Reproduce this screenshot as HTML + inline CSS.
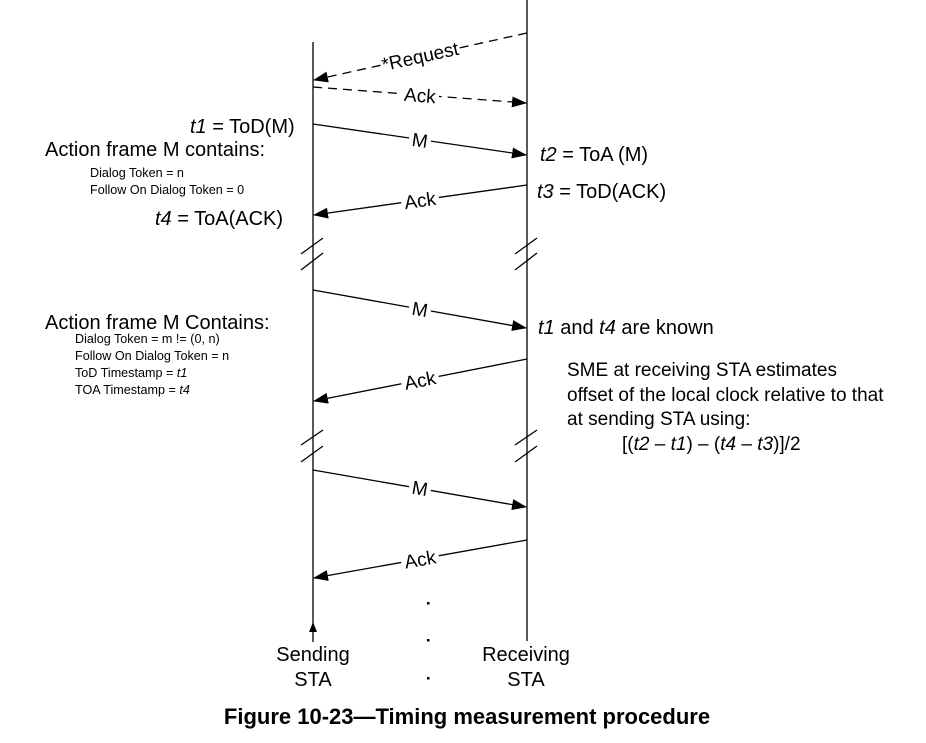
<!DOCTYPE html>
<html><head><meta charset="utf-8"><style>
body{margin:0;background:#fff}
svg{display:block}
text{font-family:"Liberation Sans",Arial,sans-serif;fill:#000}
</style></head><body>
<svg width="926" height="743" viewBox="0 0 926 743" xmlns="http://www.w3.org/2000/svg">
<defs>
<marker id="ah" markerWidth="15" markerHeight="11" refX="14" refY="5.5" orient="auto" markerUnits="userSpaceOnUse">
<path d="M0,0 L15,5.5 L0,11 z" fill="#000"/></marker>
</defs>
<g stroke="#000" stroke-width="1.3" fill="none">
<line x1="313" y1="42" x2="313" y2="642"/>
<line x1="527" y1="0" x2="527" y2="641"/>
<line x1="301" y1="254" x2="323" y2="238"/><line x1="301" y1="270" x2="323" y2="253"/>
<line x1="515" y1="254" x2="537" y2="238"/><line x1="515" y1="270" x2="537" y2="253"/>
<line x1="301" y1="445" x2="323" y2="430"/><line x1="301" y1="462" x2="323" y2="446"/>
<line x1="515" y1="445" x2="537" y2="430"/><line x1="515" y1="462" x2="537" y2="446"/>
<line x1="527" y1="33" x2="314" y2="80" stroke-dasharray="9,6" marker-end="url(#ah)"/>
<line x1="313" y1="87" x2="526" y2="103" stroke-dasharray="9,6" marker-end="url(#ah)"/>
<line x1="313" y1="124" x2="526" y2="155" marker-end="url(#ah)"/>
<line x1="527" y1="185" x2="314" y2="215" marker-end="url(#ah)"/>
<line x1="313" y1="290" x2="526" y2="328" marker-end="url(#ah)"/>
<line x1="527" y1="359" x2="314" y2="401" marker-end="url(#ah)"/>
<line x1="313" y1="470" x2="526" y2="507" marker-end="url(#ah)"/>
<line x1="527" y1="540" x2="314" y2="578" marker-end="url(#ah)"/>
</g>
<path d="M313,622 l-4,10 l8,0 z" fill="#000"/>
<g font-size="19" text-anchor="middle">
<g transform="translate(420,56) rotate(-12.4)"><rect x="-40" y="-12" width="80" height="22" fill="#fff"/><text y="7">*Request</text></g>
<g transform="translate(420,95) rotate(4.3)"><rect x="-19" y="-12" width="38" height="22" fill="#fff"/><text y="7">Ack</text></g>
<g transform="translate(420,140) rotate(8.2)"><rect x="-11" y="-12" width="22" height="22" fill="#fff"/><text y="7">M</text></g>
<g transform="translate(420,200) rotate(-8)"><rect x="-19" y="-12" width="38" height="22" fill="#fff"/><text y="7">Ack</text></g>
<g transform="translate(420,309) rotate(10)"><rect x="-11" y="-12" width="22" height="22" fill="#fff"/><text y="7">M</text></g>
<g transform="translate(420,380) rotate(-11.1)"><rect x="-19" y="-12" width="38" height="22" fill="#fff"/><text y="7">Ack</text></g>
<g transform="translate(420,488) rotate(9.8)"><rect x="-11" y="-12" width="22" height="22" fill="#fff"/><text y="7">M</text></g>
<g transform="translate(420,559) rotate(-10)"><rect x="-19" y="-12" width="38" height="22" fill="#fff"/><text y="7">Ack</text></g>
</g>
<g font-size="20">
<text x="190" y="133"><tspan font-style="italic">t1</tspan> = ToD(M)</text>
<text x="45" y="156">Action frame M contains:</text>
<text x="155" y="225"><tspan font-style="italic">t4</tspan> = ToA(ACK)</text>
<text x="45" y="329">Action frame M Contains:</text>
<text x="540" y="161"><tspan font-style="italic">t2</tspan> = ToA (M)</text>
<text x="537" y="198"><tspan font-style="italic">t3</tspan> = ToD(ACK)</text>
<text x="538" y="334"><tspan font-style="italic">t1</tspan> and <tspan font-style="italic">t4</tspan> are known</text>
<text x="313" y="661" text-anchor="middle">Sending</text>
<text x="313" y="686" text-anchor="middle">STA</text>
<text x="526" y="661" text-anchor="middle">Receiving</text>
<text x="526" y="686" text-anchor="middle">STA</text>
</g>
<g font-size="19">
<text x="567" y="376">SME at receiving STA estimates</text>
<text x="567" y="401">offset of the local clock relative to that</text>
<text x="567" y="425">at sending STA using:</text>
<text x="622" y="450">[(<tspan font-style="italic">t2</tspan> – <tspan font-style="italic">t1</tspan>) – (<tspan font-style="italic">t4</tspan> – <tspan font-style="italic">t3</tspan>)]/2</text>
</g>
<g font-size="12.6">
<text x="90" y="177">Dialog Token = n</text>
<text x="90" y="194">Follow On Dialog Token = 0</text>
<text x="75" y="343">Dialog Token  = m != (0, n)</text>
<text x="75" y="360">Follow On Dialog Token = n</text>
<text x="75" y="377">ToD Timestamp = <tspan font-style="italic">t1</tspan></text>
<text x="75" y="394">TOA Timestamp = <tspan font-style="italic">t4</tspan></text>
</g>
<rect x="427" y="602" width="2.5" height="2.5" fill="#000"/>
<rect x="427" y="639" width="2.5" height="2.5" fill="#000"/>
<rect x="427" y="677" width="2.5" height="2.5" fill="#000"/>
<text x="467" y="724" font-size="22" font-weight="bold" text-anchor="middle">Figure 10-23—Timing measurement procedure</text>
</svg>
</body></html>
